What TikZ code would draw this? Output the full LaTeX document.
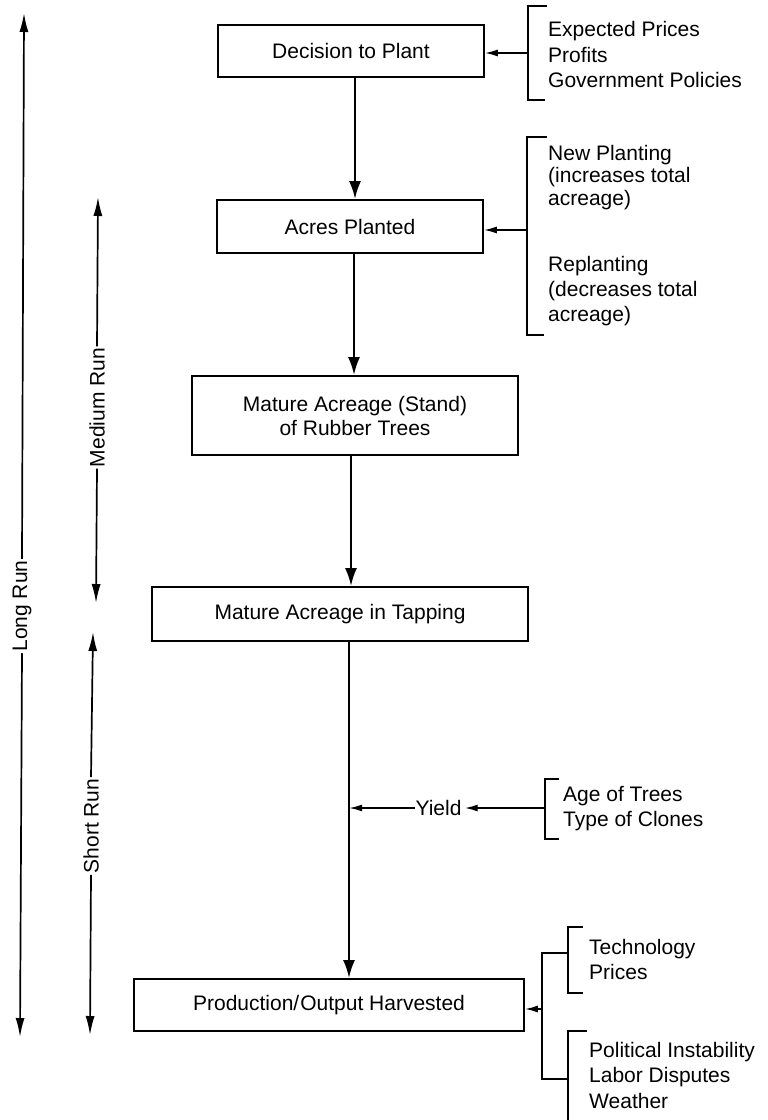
\documentclass[tikz,border=0pt]{standalone}
\usepackage{fontspec}
\setmainfont{Liberation Sans}
\usetikzlibrary{arrows.meta}
\begin{document}
\begin{tikzpicture}[x=1pt,y=-1pt,
  txt/.style={font=\fontsize{21}{25}\selectfont, inner sep=0pt},
  box/.style={draw, line width=1.8pt, inner sep=0pt, align=center, txt},
  mainarr/.style={line width=2.4pt, -{Latex[length=18pt,width=12pt]}},
  rangearr/.style={line width=1.7pt, -{Latex[length=19pt,width=9pt]}},
  sidearr/.style={line width=1.6pt, -{Latex[length=13pt,width=7pt]}},
  brk/.style={line width=1.6pt},
  lst/.style={txt, anchor=west, align=left},
  rlabel/.style={txt, rotate=90, inner sep=1.5pt}]
\useasboundingbox (0,0) rectangle (768,1120);
\fill[white] (0,0) rectangle (768,1120);

% boxes
\node[box, minimum width=266pt, minimum height=52pt] (dec) at (351,51) {Decision to Plant};
\node[box, minimum width=266pt, minimum height=53pt] (acres) at (350,226.5) {Acres Planted};
\node[box, minimum width=326pt, minimum height=79pt, font=\fontsize{21}{24}\selectfont] (mat) at (355,415.5) {Mature Acreage (Stand)\\of Rubber Trees};
\node[box, minimum width=376pt, minimum height=54pt] (tap) at (340,614) {Mature Acreage in Tapping};
\node[box, minimum width=390pt, minimum height=52pt] (prod) at (329,1005) {Production/\kern1pt Output Harvested};

% main flow
\coordinate (c1) at (355,0);
\coordinate (c2) at (354,0);
\coordinate (c3) at (351,0);
\coordinate (c4) at (349,0);
\draw[mainarr] (dec.south -| c1) -- (acres.north -| c1);
\draw[mainarr] (acres.south -| c2) -- (mat.north -| c2);
\draw[mainarr] (mat.south -| c3) -- (tap.north -| c3);
\draw[mainarr] (tap.south -| c4) -- (prod.north -| c4);

% Yield
\node[txt] (yield) at (438.5,808) {Yield};
\coordinate (yj) at (349,808);
\draw[sidearr, line width=1.8pt] (yield.west) -- (yj);
\coordinate (yb) at (545,808);
\draw[sidearr, line width=1.8pt] (yb) -- ([xshift=3pt]yield.east);
\draw[brk] (559,779) -- (545,779) -- (545,839) -- (559,839);
\node[lst] (age) at (563,808.5) {Age of Trees\\Type of Clones};

% Decision inputs
\draw[brk] (547,6) -- (528,6) -- (528,100) -- (545,100);
\coordinate (b1) at (528,53);
\draw[sidearr] (b1) -- (dec.east |- b1);
\node[lst, font=\fontsize{21}{25.5}\selectfont] (exp) at (548,54.5) {Expected Prices\\Profits\\Government Policies};

% Acres inputs
\draw[brk] (547,137) -- (527,137) -- (527,335) -- (544,335);
\coordinate (b2) at (527,230);
\draw[sidearr] (b2) -- (acres.east |- b2);
\node[lst, font=\fontsize{21}{22.5}\selectfont] (newp) at (548,177.5) {New Planting\\(increases total\\acreage)};
\node[lst, font=\fontsize{21}{25}\selectfont] (rep) at (548,291.5) {Replanting\\(decreases total\\acreage)};

% Production inputs
\draw[brk] (568,953) -- (542,953) -- (542,1079) -- (568,1079);
\coordinate (b3) at (542,1009);
\draw[sidearr] (b3) -- (prod.east |- b3);
\draw[brk] (583,927) -- (568,927) -- (568,993) -- (583,993);
\node[lst] (tech) at (589,959.5) {Technology\\Prices};
\draw[brk] (587,1031) -- (568,1031) -- (568,1120);
\node[lst, font=\fontsize{21}{25.5}\selectfont] (pol) at (589,1075) {Political Instability\\Labor Disputes\\Weather};

% range arrows
\node[rlabel] (lr) at (22,606) {Long Run};
\coordinate (lrt) at (24,13);
\coordinate (lrb) at (20,1037);
\draw[rangearr] (lr.east) -- (lrt);
\draw[rangearr] (lr.west) -- (lrb);

\node[rlabel] (mr) at (97,407.5) {Medium Run};
\coordinate (mrt) at (98,197);
\coordinate (mrb) at (96,603);
\draw[rangearr] (mr.east) -- (mrt);
\draw[rangearr] (mr.west) -- (mrb);

\node[rlabel] (sr) at (91,826) {Short Run};
\coordinate (srt) at (93,632);
\coordinate (srb) at (90,1035);
\draw[rangearr] (sr.east) -- (srt);
\draw[rangearr] (sr.west) -- (srb);
\end{tikzpicture}
\end{document}
